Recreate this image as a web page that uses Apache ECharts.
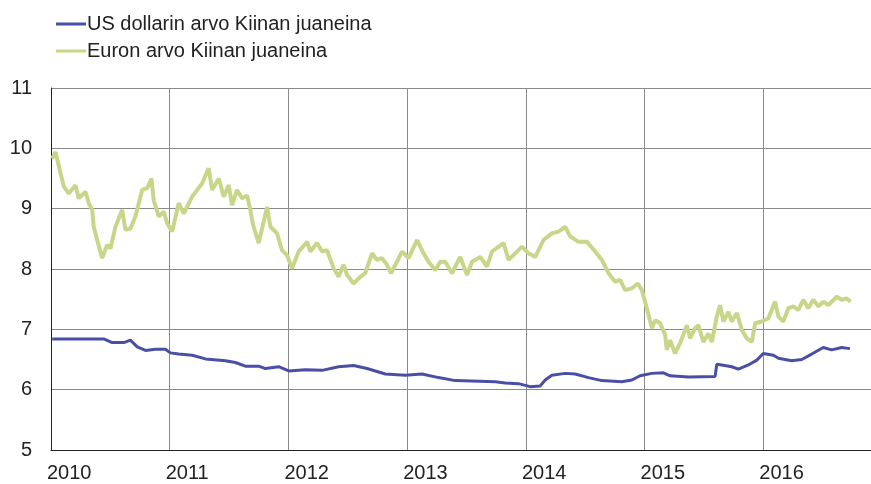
<!DOCTYPE html>
<html>
<head>
<meta charset="utf-8">
<script src="https://cdn.jsdelivr.net/npm/echarts@6/dist/echarts.min.js"></script>
<style>
  html, body { margin: 0; padding: 0; background: #fff; }
  #chart { width: 871px; height: 484px; }
</style>
</head>
<body>
<div id="chart"></div>
<script>
// aika desimaalivuosina (2010.5 = heinäkuu 2010)
const euroYears = [
  2010.010, 2010.038, 2010.080, 2010.108, 2010.150, 2010.206, 2010.234, 2010.290, 2010.318, 2010.347,
  2010.360, 2010.389, 2010.431, 2010.473, 2010.501, 2010.543, 2010.599, 2010.627, 2010.669, 2010.711,
  2010.768, 2010.810, 2010.846, 2010.865, 2010.907, 2010.950, 2010.978, 2011.020, 2011.076, 2011.118,
  2011.189, 2011.273, 2011.328, 2011.357, 2011.413, 2011.455, 2011.497, 2011.525, 2011.567, 2011.610,
  2011.652, 2011.679, 2011.694, 2011.707, 2011.749, 2011.791, 2011.820, 2011.848, 2011.904, 2011.946,
  2011.988, 2012.030, 2012.086, 2012.157, 2012.185, 2012.241, 2012.283, 2012.325, 2012.381, 2012.423,
  2012.465, 2012.494, 2012.549, 2012.605, 2012.647, 2012.704, 2012.746, 2012.788, 2012.830, 2012.864,
  2012.914, 2012.956, 2013.012, 2013.083, 2013.138, 2013.180, 2013.237, 2013.279, 2013.321, 2013.377,
  2013.447, 2013.504, 2013.546, 2013.616, 2013.672, 2013.714, 2013.812, 2013.854, 2013.967, 2014.022,
  2014.079, 2014.148, 2014.219, 2014.275, 2014.331, 2014.373, 2014.443, 2014.514, 2014.584, 2014.640,
  2014.696, 2014.752, 2014.794, 2014.836, 2014.893, 2014.943, 2014.977, 2015.019, 2015.061, 2015.089,
  2015.131, 2015.173, 2015.187, 2015.215, 2015.257, 2015.299, 2015.356, 2015.383, 2015.425, 2015.453,
  2015.495, 2015.537, 2015.566, 2015.608, 2015.636, 2015.664, 2015.706, 2015.734, 2015.777, 2015.819,
  2015.861, 2015.903, 2015.931, 2015.987, 2016.042, 2016.099, 2016.127, 2016.169, 2016.211, 2016.253,
  2016.295, 2016.337, 2016.379, 2016.421, 2016.464, 2016.506, 2016.548, 2016.618, 2016.660, 2016.702,
  2016.736
];
const euroValues = [
  9.83, 9.94, 9.59, 9.37, 9.25, 9.39, 9.17, 9.28, 9.09, 8.98,
  8.70, 8.48, 8.18, 8.40, 8.34, 8.70, 8.98, 8.65, 8.67, 8.87,
  9.31, 9.34, 9.50, 9.14, 8.87, 8.95, 8.76, 8.62, 9.09, 8.92,
  9.20, 9.42, 9.67, 9.31, 9.50, 9.20, 9.39, 9.06, 9.31, 9.17,
  9.22, 8.98, 8.81, 8.70, 8.43, 8.78, 9.03, 8.70, 8.59, 8.31,
  8.23, 8.01, 8.29, 8.45, 8.29, 8.43, 8.29, 8.31, 8.01, 7.87,
  8.07, 7.90, 7.76, 7.87, 7.93, 8.26, 8.15, 8.18, 8.07, 7.93,
  8.12, 8.29, 8.18, 8.48, 8.26, 8.12, 7.98, 8.12, 8.12, 7.93,
  8.20, 7.90, 8.12, 8.20, 8.04, 8.29, 8.43, 8.15, 8.37, 8.26,
  8.20, 8.48, 8.59, 8.62, 8.70, 8.54, 8.45, 8.45, 8.29, 8.15,
  7.93, 7.79, 7.82, 7.65, 7.68, 7.76, 7.65, 7.35, 7.02, 7.15,
  7.10, 6.91, 6.66, 6.82, 6.60, 6.77, 7.07, 6.85, 7.02, 7.07,
  6.79, 6.93, 6.79, 7.21, 7.40, 7.13, 7.29, 7.13, 7.27, 6.99,
  6.85, 6.79, 7.10, 7.13, 7.18, 7.46, 7.21, 7.13, 7.35, 7.38,
  7.32, 7.49, 7.35, 7.49, 7.38, 7.46, 7.40, 7.54, 7.49, 7.51,
  7.46
];

const usdYears = [
  2010.010, 2010.444, 2010.515, 2010.613, 2010.669, 2010.726, 2010.796, 2010.880, 2010.964, 2011.006,
  2011.076, 2011.189, 2011.301, 2011.469, 2011.553, 2011.637, 2011.749, 2011.806, 2011.918, 2012.002,
  2012.142, 2012.283, 2012.423, 2012.549, 2012.662, 2012.816, 2012.984, 2013.125, 2013.264, 2013.405,
  2013.742, 2013.826, 2013.938, 2014.036, 2014.120, 2014.163, 2014.219, 2014.331, 2014.415, 2014.527,
  2014.640, 2014.808, 2014.893, 2014.962, 2015.061, 2015.159, 2015.215, 2015.369, 2015.594, 2015.608,
  2015.650, 2015.734, 2015.790, 2015.874, 2015.945, 2016.000, 2016.085, 2016.127, 2016.239, 2016.324,
  2016.408, 2016.505, 2016.576, 2016.660, 2016.730
];
const usdValues = [
  6.84, 6.84, 6.78, 6.78, 6.82, 6.71, 6.65, 6.67, 6.67, 6.61,
  6.59, 6.57, 6.51, 6.48, 6.45, 6.39, 6.39, 6.35, 6.38, 6.31,
  6.33, 6.32, 6.38, 6.40, 6.35, 6.26, 6.24, 6.26, 6.20, 6.15,
  6.13, 6.11, 6.10, 6.05, 6.06, 6.16, 6.24, 6.27, 6.26, 6.20,
  6.15, 6.13, 6.16, 6.23, 6.27, 6.28, 6.23, 6.21, 6.22, 6.42,
  6.41, 6.38, 6.34, 6.41, 6.49, 6.60, 6.57, 6.52, 6.48, 6.50,
  6.59, 6.70, 6.66, 6.70, 6.68
];

const seriesNames = ['US dollarin arvo Kiinan juaneina', 'Euron arvo Kiinan juaneina'];
const yTicks = [5, 6, 7, 8, 9, 10, 11];

const pair = (xs, ys) => xs.map((x, i) => [x, ys[i]]);

const chart = echarts.init(document.getElementById('chart'));
const font = 'Liberation Sans, Arial, sans-serif';

chart.setOption({
  animation: false,
  backgroundColor: '#fff',
  textStyle: { fontFamily: font },
  legend: {
    orient: 'vertical',
    left: 51,
    top: 8,
    itemWidth: 30,
    itemHeight: 3,
    itemGap: 5,
    icon: 'rect',
    textStyle: { fontSize: 20, color: '#222', lineHeight: 22, fontFamily: font, padding: [0, 0, 0, -4] },
    data: seriesNames
  },
  grid: { left: 51, right: 0, top: 88, bottom: 34, containLabel: false },
  xAxis: {
    type: 'value',
    min: 2010,
    max: 2016.907,
    interval: 1,
    axisLine: { show: true, onZero: false, lineStyle: { color: '#222', width: 1 } },
    axisTick: { show: false },
    splitLine: { show: true, lineStyle: { color: '#8a8a8a', width: 1 } },
    axisLabel: {
      fontSize: 20,
      color: '#222',
      margin: 13,
      align: 'left',
      padding: [0, 0, 0, -4],
      showMaxLabel: false,
      formatter: v => String(Math.round(v))
    }
  },
  yAxis: {
    type: 'value',
    min: yTicks[0],
    max: yTicks[yTicks.length - 1],
    interval: 1,
    axisLine: { show: true, lineStyle: { color: '#222', width: 1 } },
    axisTick: { show: false },
    splitLine: { show: true, lineStyle: { color: '#8a8a8a', width: 1 } },
    axisLabel: { fontSize: 20, color: '#222', margin: 19 }
  },
  series: [
    {
      name: seriesNames[1],
      type: 'line',
      data: pair(euroYears, euroValues),
      showSymbol: false,
      color: '#c8d68a',
      lineStyle: { color: '#c8d68a', width: 4 },
      z: 2
    },
    {
      name: seriesNames[0],
      type: 'line',
      data: pair(usdYears, usdValues),
      showSymbol: false,
      color: '#4a4fa6',
      lineStyle: { color: '#4a4fa6', width: 3 },
      z: 3
    }
  ]
});
</script>
</body>
</html>
